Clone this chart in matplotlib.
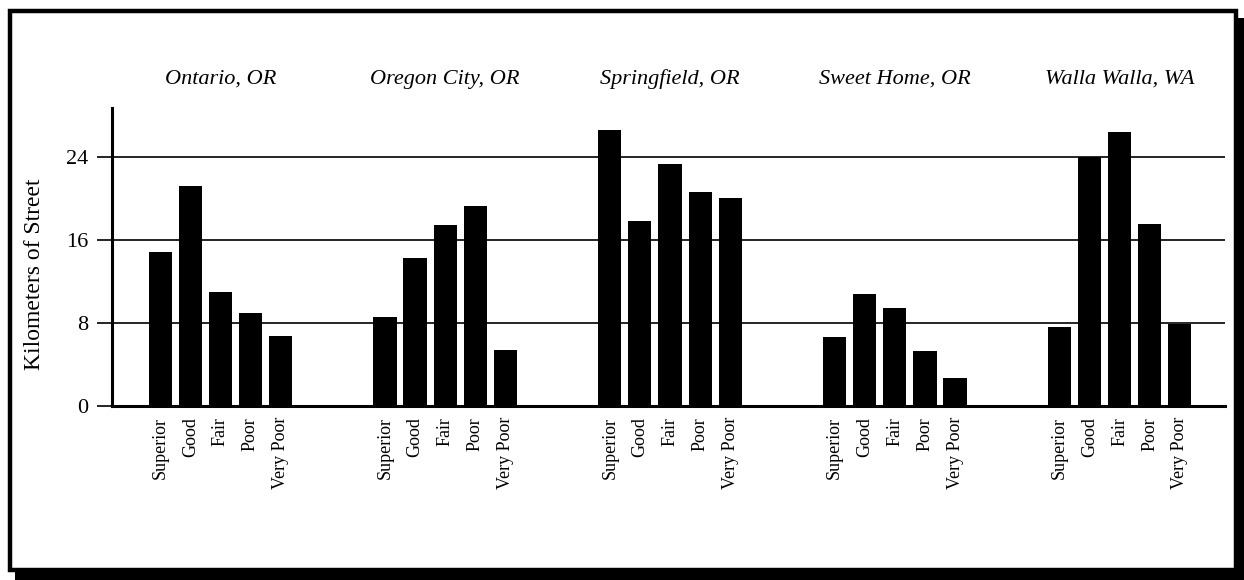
import numpy as np
import matplotlib
matplotlib.use('Agg')
import matplotlib.pyplot as plt
from matplotlib.patches import Rectangle

plt.rcParams['font.family'] = ['Liberation Serif', 'DejaVu Serif']

cities = ['Ontario, OR', 'Oregon City, OR', 'Springfield, OR', 'Sweet Home, OR', 'Walla Walla, WA']
conditions = ['Superior', 'Good', 'Fair', 'Poor', 'Very Poor']

# km of street per condition, one list per city
ontario = [14.8, 21.2, 11.0, 9.0, 6.7]
oregon_city = [8.6, 14.3, 17.4, 19.3, 5.4]
springfield = [26.6, 17.8, 23.3, 20.6, 20.0]
sweet_home = [6.6, 10.8, 9.4, 5.3, 2.7]
walla_walla = [7.6, 24.0, 26.4, 17.5, 7.9]
values = [ontario, oregon_city, springfield, sweet_home, walla_walla]

yticks = [0, 8, 16, 24]

group_step = 7.47
W, H = 1244, 580
fig = plt.figure(figsize=(W / 100, H / 100), dpi=100)
ax = fig.add_axes([112 / W, 1 - 406 / H, (1225 - 112) / W, (406 - 108) / H])

xs, labels = [], []
for g, vals in enumerate(values):
    pos = g * group_step + np.arange(len(conditions))
    ax.bar(pos, vals, width=0.77, color='black', zorder=3)
    xs.extend(pos)
    labels.extend(conditions)
    ax.text(pos.mean(), 1.097, cities[g], transform=ax.get_xaxis_transform(),
            ha='center', va='center', fontsize=16, style='italic')

ax.set_xlim(-1.6, (len(values) - 1) * group_step + len(conditions) - 1 + 1.5)
ax.set_ylim(0, 28.7)
ax.set_yticks(yticks)
ax.set_yticklabels([str(t) for t in yticks], fontsize=16)
ax.set_xticks(xs)
ax.set_xticklabels(labels, rotation=90, fontsize=13, va='top', ha='center')
ax.tick_params(axis='x', length=0, pad=8)
ax.tick_params(axis='y', length=11, width=1.2, pad=6, direction='out')
ax.grid(axis='y', color='black', linewidth=1.2, zorder=1)

for s in ['top', 'right']:
    ax.spines[s].set_visible(False)
ax.spines['left'].set_linewidth(2.2)
ax.spines['bottom'].set_linewidth(2.2)

fig.text(35 / W, 1 - 274 / H, 'Kilometers of Street', rotation=90,
         ha='center', va='center', fontsize=17)

# framed box with drop shadow
fig.patches.append(Rectangle((15 / W, 1 - 580 / H), (1244 - 15) / W, (580 - 18) / H,
                             transform=fig.transFigure, facecolor='black',
                             edgecolor='none', zorder=-2))
fig.patches.append(Rectangle((10 / W, 1 - 570 / H), (1236 - 10) / W, (570 - 11) / H,
                             transform=fig.transFigure, facecolor='white',
                             edgecolor='black', linewidth=3.2, zorder=-1))

fig.savefig('out.png', dpi=100)
